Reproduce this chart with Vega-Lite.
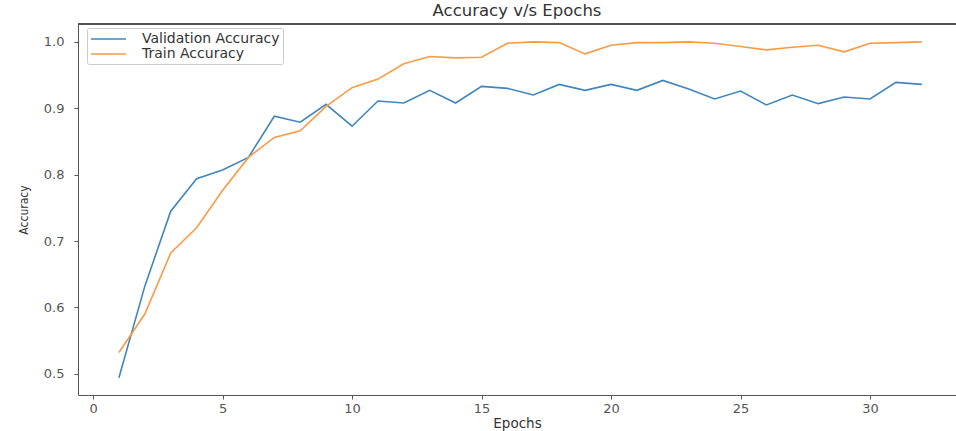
{
  "$schema": "https://vega.github.io/schema/vega-lite/v6.json",
  "autosize": "none",
  "width": 878,
  "height": 371,
  "padding": {"left": 78, "top": 24, "right": 0, "bottom": 36},
  "background": "white",
  "config": {
    "view": {"stroke": null},
    "font": "DejaVu Sans",
    "axis": {"grid": false, "domainColor": "#555", "tickColor": "#555", "labelColor": "#555", "titleColor": "#333", "labelFont": "DejaVu Sans", "titleFont": "DejaVu Sans", "titleFontWeight": "normal", "labelFontSize": 13, "titleFontSize": 13.5, "tickSize": 4}
  },
  "title": {"text": "Accuracy v/s Epochs", "fontSize": 16.5, "fontWeight": "normal", "color": "#333", "font": "DejaVu Sans", "offset": 4, "anchor": "middle"},
  "data": {"values": [
    {"epoch": 1, "series": "Validation Accuracy", "acc": 0.494},
    {"epoch": 2, "series": "Validation Accuracy", "acc": 0.632},
    {"epoch": 3, "series": "Validation Accuracy", "acc": 0.745},
    {"epoch": 4, "series": "Validation Accuracy", "acc": 0.794},
    {"epoch": 5, "series": "Validation Accuracy", "acc": 0.807},
    {"epoch": 6, "series": "Validation Accuracy", "acc": 0.826},
    {"epoch": 7, "series": "Validation Accuracy", "acc": 0.888},
    {"epoch": 8, "series": "Validation Accuracy", "acc": 0.879},
    {"epoch": 9, "series": "Validation Accuracy", "acc": 0.906},
    {"epoch": 10, "series": "Validation Accuracy", "acc": 0.873},
    {"epoch": 11, "series": "Validation Accuracy", "acc": 0.911},
    {"epoch": 12, "series": "Validation Accuracy", "acc": 0.908},
    {"epoch": 13, "series": "Validation Accuracy", "acc": 0.927},
    {"epoch": 14, "series": "Validation Accuracy", "acc": 0.908},
    {"epoch": 15, "series": "Validation Accuracy", "acc": 0.933},
    {"epoch": 16, "series": "Validation Accuracy", "acc": 0.930},
    {"epoch": 17, "series": "Validation Accuracy", "acc": 0.920},
    {"epoch": 18, "series": "Validation Accuracy", "acc": 0.936},
    {"epoch": 19, "series": "Validation Accuracy", "acc": 0.927},
    {"epoch": 20, "series": "Validation Accuracy", "acc": 0.936},
    {"epoch": 21, "series": "Validation Accuracy", "acc": 0.927},
    {"epoch": 22, "series": "Validation Accuracy", "acc": 0.942},
    {"epoch": 23, "series": "Validation Accuracy", "acc": 0.929},
    {"epoch": 24, "series": "Validation Accuracy", "acc": 0.914},
    {"epoch": 25, "series": "Validation Accuracy", "acc": 0.926},
    {"epoch": 26, "series": "Validation Accuracy", "acc": 0.905},
    {"epoch": 27, "series": "Validation Accuracy", "acc": 0.920},
    {"epoch": 28, "series": "Validation Accuracy", "acc": 0.907},
    {"epoch": 29, "series": "Validation Accuracy", "acc": 0.917},
    {"epoch": 30, "series": "Validation Accuracy", "acc": 0.914},
    {"epoch": 31, "series": "Validation Accuracy", "acc": 0.939},
    {"epoch": 32, "series": "Validation Accuracy", "acc": 0.936},
    {"epoch": 1, "series": "Train Accuracy", "acc": 0.532},
    {"epoch": 2, "series": "Train Accuracy", "acc": 0.590},
    {"epoch": 3, "series": "Train Accuracy", "acc": 0.682},
    {"epoch": 4, "series": "Train Accuracy", "acc": 0.720},
    {"epoch": 5, "series": "Train Accuracy", "acc": 0.776},
    {"epoch": 6, "series": "Train Accuracy", "acc": 0.826},
    {"epoch": 7, "series": "Train Accuracy", "acc": 0.856},
    {"epoch": 8, "series": "Train Accuracy", "acc": 0.866},
    {"epoch": 9, "series": "Train Accuracy", "acc": 0.903},
    {"epoch": 10, "series": "Train Accuracy", "acc": 0.931},
    {"epoch": 11, "series": "Train Accuracy", "acc": 0.944},
    {"epoch": 12, "series": "Train Accuracy", "acc": 0.967},
    {"epoch": 13, "series": "Train Accuracy", "acc": 0.978},
    {"epoch": 14, "series": "Train Accuracy", "acc": 0.976},
    {"epoch": 15, "series": "Train Accuracy", "acc": 0.977},
    {"epoch": 16, "series": "Train Accuracy", "acc": 0.998},
    {"epoch": 17, "series": "Train Accuracy", "acc": 1.0},
    {"epoch": 18, "series": "Train Accuracy", "acc": 0.999},
    {"epoch": 19, "series": "Train Accuracy", "acc": 0.982},
    {"epoch": 20, "series": "Train Accuracy", "acc": 0.995},
    {"epoch": 21, "series": "Train Accuracy", "acc": 0.999},
    {"epoch": 22, "series": "Train Accuracy", "acc": 0.999},
    {"epoch": 23, "series": "Train Accuracy", "acc": 1.0},
    {"epoch": 24, "series": "Train Accuracy", "acc": 0.998},
    {"epoch": 25, "series": "Train Accuracy", "acc": 0.993},
    {"epoch": 26, "series": "Train Accuracy", "acc": 0.988},
    {"epoch": 27, "series": "Train Accuracy", "acc": 0.992},
    {"epoch": 28, "series": "Train Accuracy", "acc": 0.995},
    {"epoch": 29, "series": "Train Accuracy", "acc": 0.985},
    {"epoch": 30, "series": "Train Accuracy", "acc": 0.998},
    {"epoch": 31, "series": "Train Accuracy", "acc": 0.999},
    {"epoch": 32, "series": "Train Accuracy", "acc": 1.0}
  ]},
  "layer": [
    {
      "mark": {"type": "rule", "color": "#555", "strokeWidth": 1},
      "encoding": {"y": {"datum": 1.027, "type": "quantitative"}}
    },
    {
      "mark": {"type": "line", "strokeWidth": 1.6},
      "encoding": {
        "x": {"field": "epoch", "type": "quantitative", "scale": {"domain": [-0.58, 33.32], "nice": false, "zero": false},
              "axis": {"values": [0, 5, 10, 15, 20, 25, 30], "title": "Epochs", "labelPadding": 3, "titlePadding": 1}},
        "y": {"field": "acc", "type": "quantitative", "scale": {"domain": [0.468, 1.027], "nice": false, "zero": false},
              "axis": {"values": [0.5, 0.6, 0.7, 0.8, 0.9, 1.0], "format": ".1f", "title": "Accuracy", "labelPadding": 10, "titlePadding": 13, "titleFont": "DejaVu Sans Condensed", "titleFontSize": 12}},
        "color": {"field": "series", "type": "nominal",
                  "scale": {"domain": ["Validation Accuracy", "Train Accuracy"], "range": ["#3f86bd", "#f99a45"]},
                  "legend": {"title": null, "orient": "none", "legendX": 9, "legendY": 4, "symbolType": "M-1,0H4", "symbolSize": 196, "symbolStrokeWidth": 1.6, "symbolFillColor": "transparent", "labelFontSize": 14, "labelColor": "#333", "labelFont": "DejaVu Sans", "strokeColor": "#ccc", "fillColor": "white", "padding": 3, "rowPadding": 0, "labelOffset": 36, "cornerRadius": 2}}
      }
    }
  ]
}
